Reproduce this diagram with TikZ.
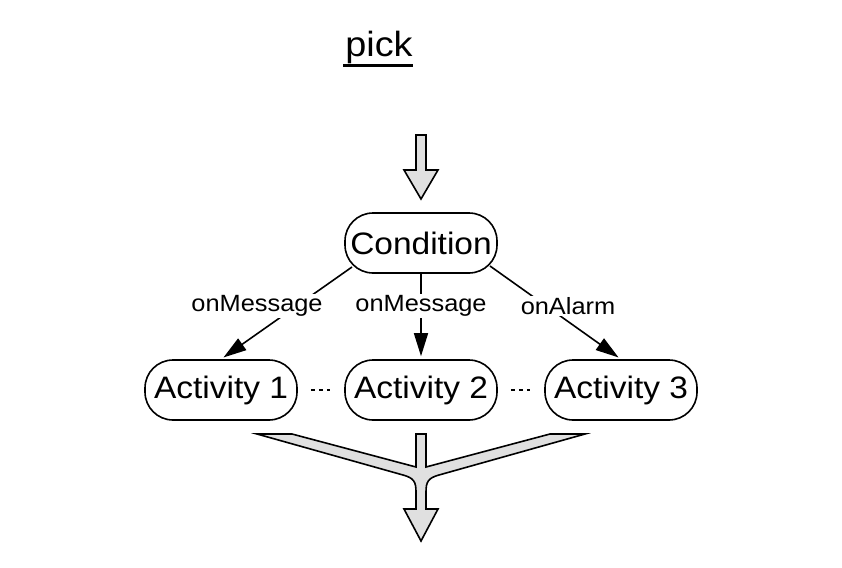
\documentclass[tikz,border=0pt]{standalone}
\usepackage{fontspec}
\setmainfont{Liberation Sans}[FakeStretch=1.08]
\usetikzlibrary{arrows.meta,calc}
\definecolor{arrowfill}{RGB}{224,224,224}
\begin{document}
\begin{tikzpicture}[x=1pt,y=-1pt,
  box/.style={draw=black,line width=1.6pt,rounded corners=28pt,minimum width=152pt,minimum height=60pt,inner sep=0pt,font=\fontsize{31}{34}\selectfont},
  conn/.style={line width=1.6pt,-{Triangle[length=23pt,width=14pt]},shorten >=3pt},
  lbl/.style={fill=white,inner sep=1pt,font=\fontsize{23.5}{26}\selectfont},
  blockarrow/.style={draw=black,fill=arrowfill,line width=1.6pt,line join=miter},
  dotsline/.style={line width=1.3pt,dash pattern=on 4pt off 4pt}]
\path[use as bounding box] (0,0) rectangle (842,567);

% title
\node[anchor=base,inner sep=0pt,font=\fontsize{35}{38}\selectfont] (title) at (379,57) {pick};
\draw[line width=2.4pt] ($(title.south west)+(-2,1)$) -- ($(title.south east)+(0,1)$);

% incoming block arrow
\draw[blockarrow] (416,135) -- (426,135) -- (426,170) -- (438,170) -- (421,199) -- (404,170) -- (416,170) -- cycle;

% nodes
\node[box] (cond) at (421,243) {Condition};
\node[box] (act1) at (221,390) {Activity 1};
\node[box] (act2) at (421,390) {Activity 2};
\node[box] (act3) at (621,390) {Activity 3};

% connectors
\coordinate (s1) at ($(cond.center)+(-69,24)$);
\coordinate (s3) at ($(cond.center)+(69,23)$);
\draw[conn] (s1) -- (act1.north);
\draw[conn] (cond.south) -- (act2.north);
\draw[conn] (s3) -- (act3.north);

% labels
\node[lbl] (l1) at (257,306) {onMessage};
\node[lbl] (l2) at (421,306) {onMessage};
\node[lbl] (l3) at (568,306) {onAlarm};

% dots between activities
\draw[dotsline,shorten <=13pt,shorten >=14pt] (act1) -- (act2);
\draw[dotsline,shorten <=13pt,shorten >=14pt] (act2) -- (act3);

% merging block arrow
\draw[blockarrow] (416,434) -- (426,434) -- (426,467) -- (550,434) -- (585,434)
  -- (439,475) .. controls (428,478) and (426,482) .. (426,492) -- (426,509)
  -- (438,509) -- (421,541) -- (404,509) -- (416,509) -- (416,492)
  .. controls (416,482) and (414,478) .. (403,475) -- (257,434) -- (292,434)
  -- (416,467) -- cycle;
\end{tikzpicture}
\end{document}
